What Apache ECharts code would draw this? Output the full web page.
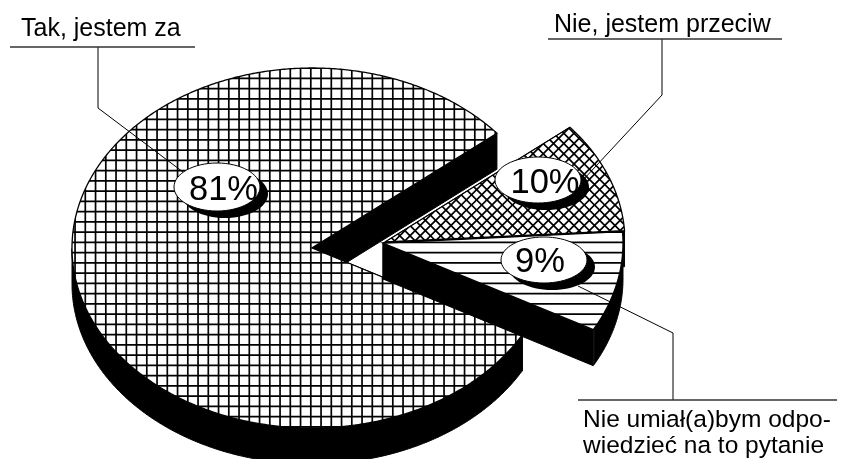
<!DOCTYPE html>
<html>
<head>
<meta charset="utf-8">
<style>
  html, body { margin: 0; padding: 0; background: #fff; }
  #chart { width: 842px; height: 459px; }
</style>
<script src="https://cdn.jsdelivr.net/npm/echarts@6/dist/echarts.min.js"></script>
</head>
<body>
<div id="chart"></div>
<script>
var categories = ['Tak, jestem za', 'Nie, jestem przeciw', 'Nie umiał(a)bym odpo-\nwiedzieć na to pytanie']
var shares = [81, 10, 9]

// pie geometry, the pie is a flattened disc so a plain pie series can't do it
var RX = 240
var RY = 180
var DEPTH = 36
var START_ANGLE = -28.8
var sliceCenters = [[312, 248], [385, 242], [383, 243]]

// bubbles and leader lines
var bubbleCenters = [[217, 187], [538, 180], [544, 260]]
var bubbleRadius = [[43, 24], [43, 23], [43, 23]]
var percentPos = [[223.5, 190], [545, 183], [540, 262]]
var leaders = [
  [[98, 47], [98, 108], [183, 172]],
  [[662, 39], [662, 95], [583, 180]],
  [[578, 286], [673, 333], [673, 400]]
]
var underlines = [[10, 195, 47], [548, 782, 39], [578, 837, 400]]
var labelPos = [[21, 16], [554, 12], [583, 407]]

var TILE = 41
var STEP = TILE / 4

function makeTile (draw) {
  var c = document.createElement('canvas')
  c.width = TILE
  c.height = TILE
  var ctx = c.getContext('2d')
  ctx.fillStyle = '#fff'
  ctx.fillRect(0, 0, TILE, TILE)
  ctx.strokeStyle = '#000'
  ctx.lineWidth = 1.7
  draw(ctx)
  return { image: c, repeat: 'repeat' }
}

function hLines (ctx) {
  for (var i = 0; i < 4; i++) {
    var y = (6.55 + i * STEP) % TILE
    ctx.beginPath()
    ctx.moveTo(0, y)
    ctx.lineTo(TILE, y)
    ctx.stroke()
  }
}

function vLines (ctx) {
  for (var i = 0; i < 4; i++) {
    var x = (3.3 + i * STEP) % TILE
    ctx.beginPath()
    ctx.moveTo(x, 0)
    ctx.lineTo(x, TILE)
    ctx.stroke()
  }
}

function diagLines (ctx) {
  for (var i = -8; i < 8; i++) {
    var o = i * STEP
    ctx.beginPath()
    ctx.moveTo(o, 0)
    ctx.lineTo(o + TILE, TILE)
    ctx.moveTo(o, TILE)
    ctx.lineTo(o + TILE, 0)
    ctx.stroke()
  }
}

var fills = [
  makeTile(function (ctx) { hLines(ctx); vLines(ctx) }),
  makeTile(diagLines),
  makeTile(hLines)
]

var total = shares.reduce(function (a, b) { return a + b }, 0)

function rimPoint (center, deg, dy) {
  var a = deg * Math.PI / 180
  return [center[0] + RX * Math.cos(a), center[1] - RY * Math.sin(a) + (dy || 0)]
}

function sliceAngles (index) {
  var before = 0
  for (var i = 0; i < index; i++) before += shares[i]
  var from = START_ANGLE - before / total * 360
  return [from, from - shares[index] / total * 360]
}

function renderSlice (params, api) {
  var i = params.dataIndex
  var center = sliceCenters[i]
  var angles = sliceAngles(i)
  var from = angles[0]
  var to = angles[1]
  var children = []
  var black = { fill: '#000', stroke: '#000', lineWidth: 1 }

  // cut walls
  ;[from, to].forEach(function (deg) {
    children.push({
      type: 'polygon',
      shape: { points: [center, rimPoint(center, deg), rimPoint(center, deg, DEPTH), [center[0], center[1] + DEPTH]] },
      style: black
    })
  })

  // outer wall, only the part facing the viewer
  var top = []
  var bottom = []
  for (var d = from; d >= to; d -= 0.5) {
    var n = ((d % 360) + 360) % 360
    if (n >= 180) {
      top.push(rimPoint(center, d))
      bottom.unshift(rimPoint(center, d, DEPTH))
    }
  }
  if (top.length) {
    children.push({ type: 'polygon', shape: { points: top.concat(bottom) }, style: black })
  }

  // top face
  var face = [center]
  for (var k = from; k > to; k -= 0.5) face.push(rimPoint(center, k))
  face.push(rimPoint(center, to))
  children.push({
    type: 'polygon',
    shape: { points: face },
    style: { fill: fills[i], stroke: '#000', lineWidth: 1.3 }
  })

  return { type: 'group', children: children }
}

function renderNote (params, api) {
  var i = params.dataIndex
  var c = bubbleCenters[i]
  var r = bubbleRadius[i]
  var u = underlines[i]
  var line = { fill: null, stroke: '#000', lineWidth: 1 }
  return {
    type: 'group',
    children: [
      { type: 'polyline', shape: { points: leaders[i] }, style: line },
      { type: 'line', shape: { x1: u[0], y1: u[2], x2: u[1], y2: u[2] }, style: { stroke: '#333', lineWidth: 1.5 } },
      { type: 'ellipse', shape: { cx: c[0] + 8, cy: c[1] + 7, rx: r[0], ry: r[1] }, style: { fill: '#000' } },
      { type: 'ellipse', shape: { cx: c[0], cy: c[1], rx: r[0], ry: r[1] }, style: { fill: '#fff', stroke: '#000', lineWidth: 1 } },
      {
        type: 'text',
        style: {
          text: api.value(0) + '%',
          x: percentPos[i][0],
          y: percentPos[i][1],
          fill: '#000',
          font: '34.5px "Liberation Sans", Arial, sans-serif',
          textAlign: 'center',
          textVerticalAlign: 'middle'
        }
      },
      {
        type: 'text',
        style: {
          text: categories[i],
          x: labelPos[i][0],
          y: labelPos[i][1],
          fill: '#000',
          font: (i === 2 ? '24.5' : '25') + 'px "Liberation Sans", Arial, sans-serif',
          lineHeight: 26,
          textAlign: 'left',
          textVerticalAlign: 'top'
        }
      }
    ]
  }
}

var chart = echarts.init(document.getElementById('chart'))
chart.setOption({
  animation: false,
  backgroundColor: '#fff',
  series: [
    {
      type: 'custom',
      coordinateSystem: 'none',
      renderItem: renderSlice,
      data: shares.map(function (v) { return [v] }),
      z: 1
    },
    {
      type: 'custom',
      coordinateSystem: 'none',
      renderItem: renderNote,
      data: shares.map(function (v) { return [v] }),
      z: 2
    }
  ]
})
</script>
</body>
</html>
